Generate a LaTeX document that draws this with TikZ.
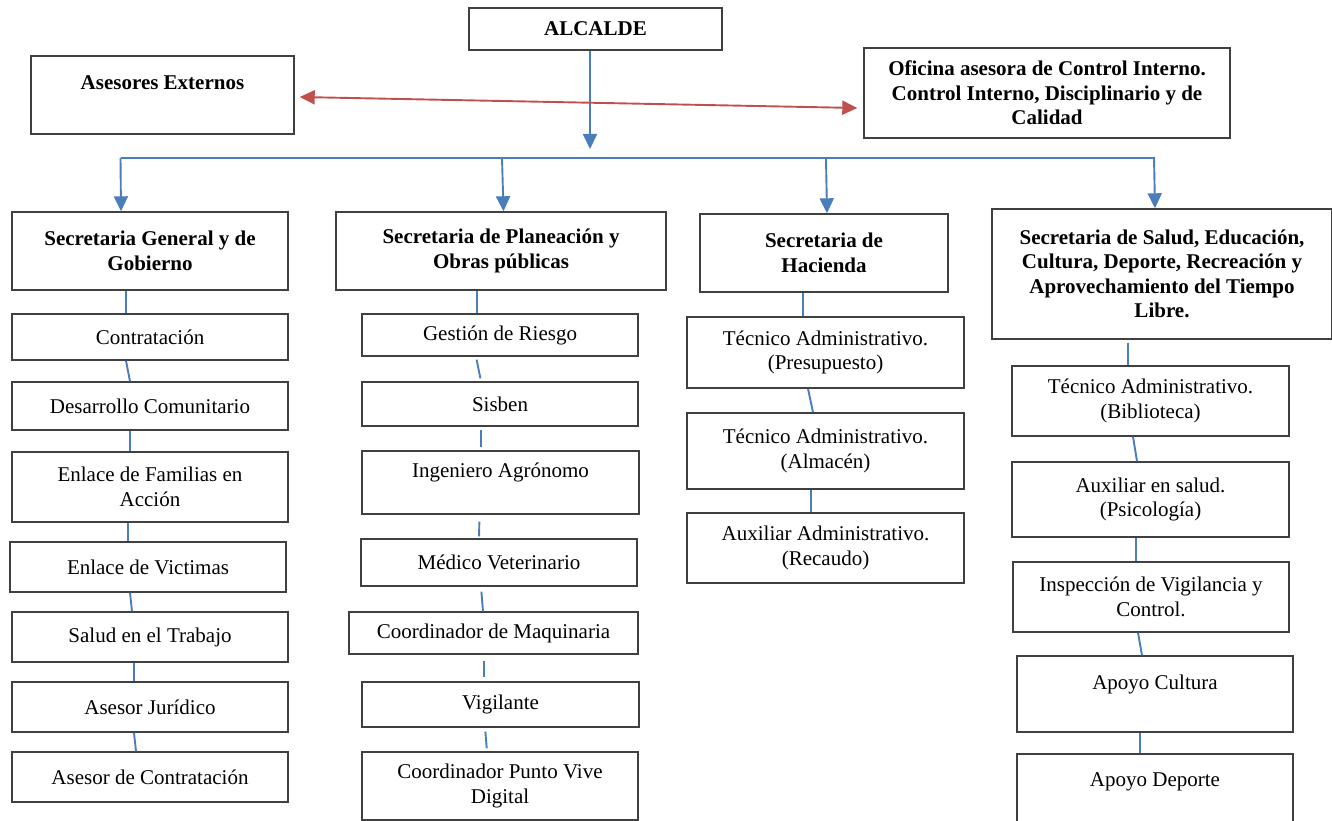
\documentclass[tikz,border=0pt]{standalone}
\usepackage{fontspec}
\setmainfont{Liberation Serif}
\usetikzlibrary{arrows.meta}
\definecolor{boxc}{HTML}{404040}
\definecolor{bluec}{HTML}{4A7EBB}
\definecolor{redc}{HTML}{C0504D}
\tikzset{
  box/.style={draw=boxc, line width=1.4pt, align=center, inner sep=0pt,
    font=\fontsize{21}{24.5}\selectfont},
  hbox/.style={box, font=\fontsize{21}{24.5}\selectfont\bfseries},
  conn/.style={draw=bluec, line width=1.9pt},
  arr/.style={conn, -{Triangle[width=14pt,length=15pt]}},
  redarr/.style={draw=redc, line width=1.9pt,
    {Triangle[width=14pt,length=15pt]}-{Triangle[width=14pt,length=15pt]}}
}
\begin{document}
\begin{tikzpicture}[x=1pt,y=-1pt]
\useasboundingbox (0,0) rectangle (1332,821);
\clip (0,0) rectangle (1332,821);
% top
\node[hbox, minimum width=253pt, minimum height=42pt] (alc) at (595.5,29) {ALCALDE};
\node[hbox, minimum width=263pt, minimum height=78pt] (ase) at (162.5,95) {Asesores Externos\\\mbox{}};
\node[hbox, minimum width=366pt, minimum height=90pt] (ofi) at (1047,93) {Oficina asesora de Control Interno.\\Control Interno, Disciplinario y de\\Calidad};
% headers
\node[hbox, minimum width=276pt, minimum height=78pt] (sg) at (150,251) {Secretaria General y de\\Gobierno};
\node[hbox, minimum width=330pt, minimum height=78pt] (sp) at (501,251) {Secretaria de Planeación y\\Obras públicas};
\node[hbox, minimum width=248pt, minimum height=78pt] (sh) at (824,253) {Secretaria de\\Hacienda};
\node[hbox, minimum width=340pt, minimum height=130pt] (ss) at (1162,274) {Secretaria de Salud, Educación,\\Cultura, Deporte, Recreación y\\Aprovechamiento del Tiempo\\Libre.};
% column 1
\node[box, minimum width=276pt, minimum height=46pt] (c1) at (150,337) {Contratación};
\node[box, minimum width=276pt, minimum height=48pt] (c2) at (150,406) {Desarrollo Comunitario};
\node[box, minimum width=276pt, minimum height=70pt] (c3) at (150,487) {Enlace de Familias en\\Acción};
\node[box, minimum width=276pt, minimum height=50pt] (c4) at (148,567) {Enlace de Victimas};
\node[box, minimum width=276pt, minimum height=50pt] (c5) at (150,637) {Salud en el Trabajo};
\node[box, minimum width=276pt, minimum height=50pt] (c6) at (150,707) {Asesor Jurídico};
\node[box, minimum width=276pt, minimum height=50pt] (c7) at (150,777) {Asesor de Contratación};
% column 2
\node[box, minimum width=276pt, minimum height=42pt] (p1) at (500,335) {Gestión de Riesgo};
\node[box, minimum width=276pt, minimum height=44pt] (p2) at (500,404) {Sisben};
\node[box, minimum width=277pt, minimum height=63pt] (p3) at (500.5,482.5) {Ingeniero Agrónomo\\\mbox{}};
\node[box, minimum width=276pt, minimum height=47pt] (p4) at (499,562.5) {Médico Veterinario};
\node[box, minimum width=289pt, minimum height=42pt] (p5) at (493.5,633) {Coordinador de Maquinaria};
\node[box, minimum width=277pt, minimum height=45pt] (p6) at (500.5,704.5) {Vigilante};
\node[box, minimum width=276pt, minimum height=68pt] (p7) at (500,786) {Coordinador Punto Vive\\Digital};
% column 3
\node[box, minimum width=277pt, minimum height=71pt] (h1) at (825.5,352.5) {Técnico Administrativo.\\(Presupuesto)};
\node[box, minimum width=277pt, minimum height=76pt] (h2) at (825.5,451) {Técnico Administrativo.\\(Almacén)};
\node[box, minimum width=277pt, minimum height=70pt] (h3) at (825.5,548) {Auxiliar Administrativo.\\(Recaudo)};
% column 4
\node[box, minimum width=277pt, minimum height=70pt] (s1) at (1150.5,401) {Técnico Administrativo.\\(Biblioteca)};
\node[box, minimum width=277pt, minimum height=75pt] (s2) at (1150.5,499.5) {Auxiliar en salud.\\(Psicología)};
\node[box, minimum width=276pt, minimum height=70pt] (s3) at (1151,597) {Inspección de Vigilancia y\\Control.};
\node[box, minimum width=276pt, minimum height=76pt] (s4) at (1155,694) {Apoyo Cultura\\\mbox{}};
\node[box, minimum width=276pt, minimum height=76pt] (s5) at (1155,792) {Apoyo Deporte\\\mbox{}};
% top connectors
\coordinate (tip) at (590,149);
\coordinate (bl) at (120.5,158);
\coordinate (br) at (1155,158);
\coordinate (d2) at (502,158);
\coordinate (d3) at (826,159);
\coordinate (d4) at (1154,158);
\draw[arr] ([xshift=-5.5pt]alc.south) -- (tip);
\draw[conn] (bl) -- (br);
\draw[arr] (bl) -- ([xshift=-29pt]sg.north);
\draw[arr] (d2) -- ([xshift=2.5pt]sp.north);
\draw[arr] (d3) -- ([xshift=3pt]sh.north);
\draw[arr] (d4) -- ([xshift=-7pt]ss.north);
\draw[redarr] ([xshift=5pt,yshift=-2pt]ase.east) -- ([xshift=-6pt,yshift=-15pt]ofi.west);
% column 1 links
\draw[conn] ([xshift=-24pt]sg.south) -- ([xshift=-24pt]c1.north);
\draw[conn] ([xshift=-24pt]c1.south) -- ([xshift=-20pt]c2.north);
\draw[conn] ([xshift=-20pt]c2.south) -- ([xshift=-20pt]c3.north);
\draw[conn] ([xshift=-22pt]c3.south) -- ([xshift=-20pt]c4.north);
\draw[conn] ([xshift=-18pt]c4.south) -- ([xshift=-18pt]c5.north);
\draw[conn] ([xshift=-16pt]c5.south) -- ([xshift=-16pt]c6.north);
\draw[conn] ([xshift=-16pt]c6.south) -- ([xshift=-14pt]c7.north);
% column 2 links
\draw[conn] ([xshift=-24pt]sp.south) -- ([xshift=-23pt]p1.north);
\draw[conn, shorten <=3pt, shorten >=3pt] ([xshift=-24pt]p1.south) -- ([xshift=-19pt]p2.north);
\draw[conn, shorten <=3pt, shorten >=3pt] ([xshift=-19pt]p2.south) -- ([xshift=-19.5pt]p3.north);
\draw[conn, shorten <=7pt, shorten >=2pt] ([xshift=-21pt]p3.south) -- ([xshift=-20pt]p4.north);
\draw[conn, shorten <=5pt] ([xshift=-18pt]p4.south) -- ([xshift=-10.5pt]p5.north);
\draw[conn, shorten <=6pt, shorten >=4pt] ([xshift=-9.5pt]p5.south) -- ([xshift=-16.5pt]p6.north);
\draw[conn, shorten <=4pt, shorten >=3pt] ([xshift=-15.5pt]p6.south) -- ([xshift=-13pt]p7.north);
% column 3 links
\draw[conn] ([xshift=-21pt]sh.south) -- ([xshift=-22.5pt]h1.north);
\draw[conn] ([xshift=-17.5pt]h1.south) -- ([xshift=-12.5pt]h2.north);
\draw[conn] ([xshift=-14.5pt]h2.south) -- ([xshift=-14.5pt]h3.north);
% column 4 links
\draw[conn, shorten <=3pt] ([xshift=-34pt]ss.south) -- ([xshift=-22.5pt]s1.north);
\draw[conn] ([xshift=-17.5pt]s1.south) -- ([xshift=-13.5pt]s2.north);
\draw[conn] ([xshift=-14.5pt]s2.south) -- ([xshift=-15pt]s3.north);
\draw[conn] ([xshift=-13pt]s3.south) -- ([xshift=-13pt]s4.north);
\draw[conn] ([xshift=-15pt]s4.south) -- ([xshift=-15pt]s5.north);
\end{tikzpicture}
\end{document}
